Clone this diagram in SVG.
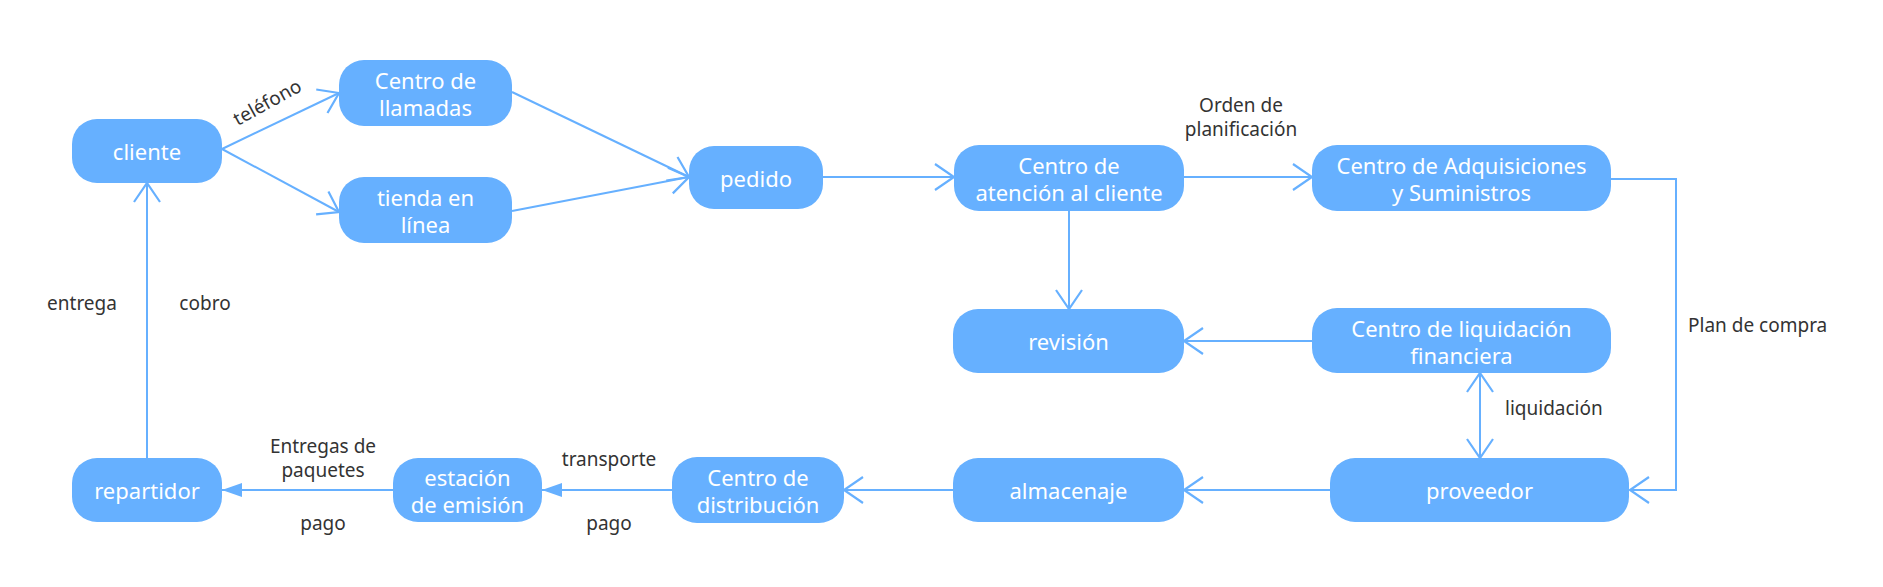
<svg xmlns="http://www.w3.org/2000/svg" width="1883" height="587" viewBox="0 0 1883 587">
<style>
.n rect{fill:#66B0FF;}
.n text{fill:#FFFFFF;font-family:"Noto Sans","Open Sans",sans-serif;font-size:22px;text-anchor:middle;dominant-baseline:central;}
.c path{fill:none;stroke:#66B0FF;stroke-width:2;}
.l{fill:#333333;font-family:"Noto Sans","Open Sans",sans-serif;font-size:19px;dominant-baseline:central;}
.m{text-anchor:middle;}
</style>
<defs>
<marker id="oa" markerUnits="userSpaceOnUse" markerWidth="24" markerHeight="32" refX="20" refY="15" orient="auto-start-reverse">
<path d="M1,2 L20,15 L1,28" fill="none" stroke="#66B0FF" stroke-width="2.2"/>
</marker>
<marker id="fa" markerUnits="userSpaceOnUse" markerWidth="24" markerHeight="18" refX="21" refY="8" orient="auto">
<path d="M1,1 L21,8 L1,15 Z" fill="#66B0FF"/>
</marker>
</defs>
<rect width="1883" height="587" fill="#FFFFFF"/>
<g id="connectors" class="c">
<path d="M222,149 L339,93" marker-end="url(#oa)"/>
<path d="M222,149 L339,212" marker-end="url(#oa)"/>
<path d="M512,92 L689,177" marker-end="url(#oa)"/>
<path d="M512,211 L689,177" marker-end="url(#oa)"/>
<path d="M823,177 L954,177" marker-end="url(#oa)"/>
<path d="M1184,177 L1312,177" marker-end="url(#oa)"/>
<path d="M1069,211 L1069,309" marker-end="url(#oa)"/>
<path d="M1312,341 L1184,341" marker-end="url(#oa)"/>
<path d="M1611,179 L1676,179 L1676,490 L1630,490" marker-end="url(#oa)"/>
<path d="M1480,373 L1480,458" marker-start="url(#oa)" marker-end="url(#oa)"/>
<path d="M1330,490 L1184,490" marker-end="url(#oa)"/>
<path d="M953,490 L844,490" marker-end="url(#oa)"/>
<path d="M672,490 L542,490" marker-end="url(#fa)"/>
<path d="M393,490 L222,490" marker-end="url(#fa)"/>
<path d="M147,458 L147,183" marker-end="url(#oa)"/>
</g>
<g id="labels">
<text class="l m" transform="translate(267,102) rotate(-29)">teléfono</text>
<text class="l m" x="1241" y="105">Orden de<tspan x="1241" dy="24">planificación</tspan></text>
<text class="l" x="1688" y="325">Plan de compra</text>
<text class="l" x="1505" y="408">liquidación</text>
<text class="l m" x="82" y="303">entrega</text>
<text class="l m" x="205" y="303">cobro</text>
<text class="l m" x="323" y="446">Entregas de<tspan x="323" dy="24">paquetes</tspan></text>
<text class="l m" x="323" y="523">pago</text>
<text class="l m" x="609" y="459">transporte</text>
<text class="l m" x="609" y="523">pago</text>
</g>
<g id="cliente" class="n"><rect x="72" y="119" width="150" height="64" rx="25"/><text x="147" y="151">cliente</text></g>
<g id="centro-llamadas" class="n"><rect x="339" y="60" width="173" height="66" rx="25"/><text x="425.5" y="80">Centro de<tspan x="425.5" dy="27">llamadas</tspan></text></g>
<g id="tienda-en-linea" class="n"><rect x="339" y="177" width="173" height="66" rx="25"/><text x="425.5" y="197">tienda en<tspan x="425.5" dy="27">línea</tspan></text></g>
<g id="pedido" class="n"><rect x="689" y="146" width="134" height="63" rx="25"/><text x="756" y="177.5">pedido</text></g>
<g id="centro-atencion" class="n"><rect x="954" y="145" width="230" height="66" rx="25"/><text x="1069" y="165">Centro de<tspan x="1069" dy="27">atención al cliente</tspan></text></g>
<g id="centro-adquisiciones" class="n"><rect x="1312" y="145" width="299" height="66" rx="25"/><text x="1461.5" y="165">Centro de Adquisiciones<tspan x="1461.5" dy="27">y Suministros</tspan></text></g>
<g id="revision" class="n"><rect x="953" y="309" width="231" height="64" rx="25"/><text x="1068.5" y="341">revisión</text></g>
<g id="centro-liquidacion" class="n"><rect x="1312" y="308" width="299" height="65" rx="25"/><text x="1461.5" y="328">Centro de liquidación<tspan x="1461.5" dy="27">financiera</tspan></text></g>
<g id="proveedor" class="n"><rect x="1330" y="458" width="299" height="64" rx="25"/><text x="1479.5" y="490">proveedor</text></g>
<g id="almacenaje" class="n"><rect x="953" y="458" width="231" height="64" rx="25"/><text x="1068.5" y="490">almacenaje</text></g>
<g id="centro-distribucion" class="n"><rect x="672" y="457" width="172" height="66" rx="25"/><text x="758" y="477">Centro de<tspan x="758" dy="27">distribución</tspan></text></g>
<g id="estacion-emision" class="n"><rect x="393" y="458" width="149" height="64" rx="25"/><text x="467.5" y="477">estación<tspan x="467.5" dy="27">de emisión</tspan></text></g>
<g id="repartidor" class="n"><rect x="72" y="458" width="150" height="64" rx="25"/><text x="147" y="490">repartidor</text></g>
</svg>
